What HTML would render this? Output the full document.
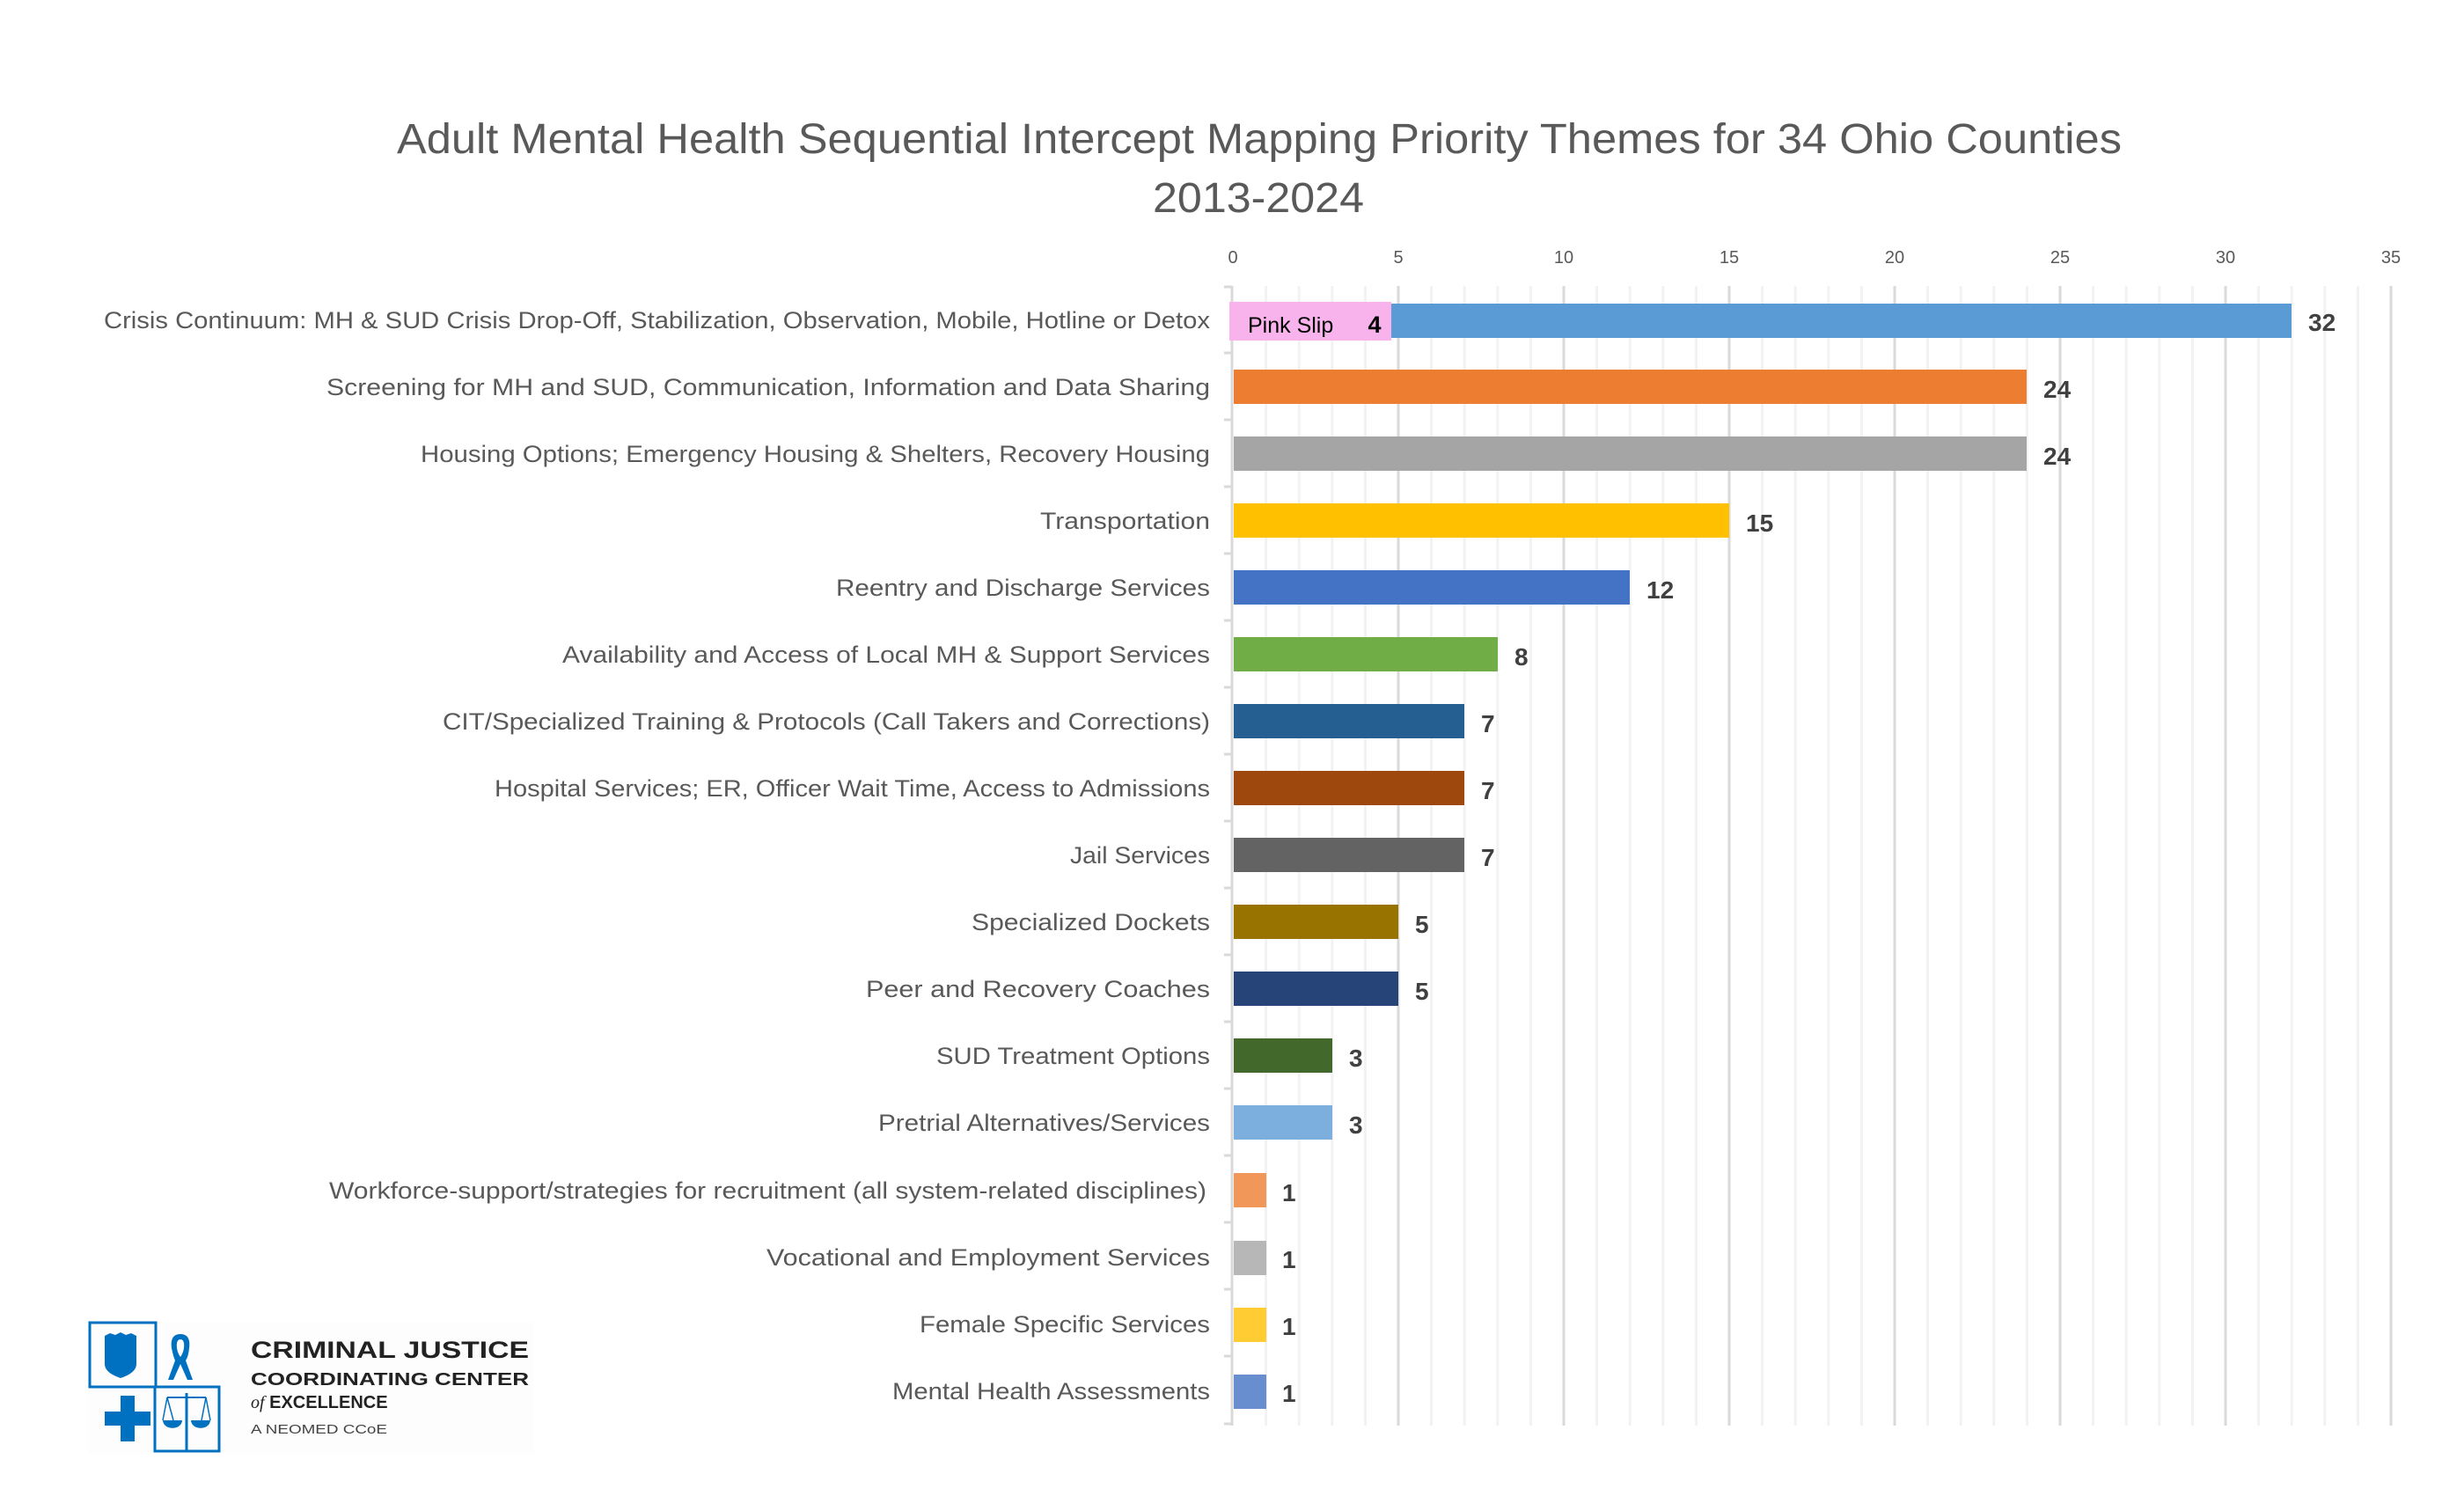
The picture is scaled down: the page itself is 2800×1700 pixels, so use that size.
<!DOCTYPE html>
<html><head><meta charset="utf-8"><style>
html,body{margin:0;padding:0;background:#fff;}
svg{display:block;}
</style></head><body>
<svg xmlns="http://www.w3.org/2000/svg" width="2800" height="1700" viewBox="0 0 2800 1700" font-family="Liberation Sans, sans-serif">
<rect width="2800" height="1700" fill="#fff"/>
<!-- title -->
<text x="451" y="174" font-size="48" fill="#595959" textLength="1960" lengthAdjust="spacingAndGlyphs">Adult Mental Health Sequential Intercept Mapping Priority Themes for 34 Ohio Counties</text>
<text x="1310" y="241" font-size="48" fill="#595959" textLength="240" lengthAdjust="spacingAndGlyphs">2013-2024</text>
<!-- gridlines -->
<path stroke="#f2f2f2" stroke-width="3" fill="none" d="M1438.6 325V1620M1476.2 325V1620M1513.8 325V1620M1551.4 325V1620M1626.6 325V1620M1664.2 325V1620M1701.8 325V1620M1739.4 325V1620M1814.6 325V1620M1852.2 325V1620M1889.8 325V1620M1927.4 325V1620M2002.6 325V1620M2040.2 325V1620M2077.8 325V1620M2115.4 325V1620M2190.6 325V1620M2228.2 325V1620M2265.8 325V1620M2303.4 325V1620M2378.6 325V1620M2416.2 325V1620M2453.8 325V1620M2491.4 325V1620M2566.6 325V1620M2604.2 325V1620M2641.8 325V1620M2679.4 325V1620"/>
<path stroke="#d9d9d9" stroke-width="3" fill="none" d="M1589 325V1620M1777 325V1620M1965 325V1620M2153 325V1620M2341 325V1620M2529 325V1620M2717 325V1620M1400 325V1620"/>
<!-- axis ticks -->
<path stroke="#d9d9d9" stroke-width="3" fill="none" d="M1391 326H1400M1391 401H1400M1391 477H1400M1391 553H1400M1391 629H1400M1391 705H1400M1391 781H1400M1391 857H1400M1391 933H1400M1391 1009H1400M1391 1085H1400M1391 1161H1400M1391 1237H1400M1391 1313H1400M1391 1389H1400M1391 1465H1400M1391 1541H1400M1391 1618H1400"/>
<!-- x tick labels -->
<g font-size="20" fill="#595959" text-anchor="middle">
<text x="1401" y="299">0</text><text x="1589" y="299">5</text><text x="1777" y="299">10</text><text x="1965" y="299">15</text><text x="2153" y="299">20</text><text x="2341" y="299">25</text><text x="2529" y="299">30</text><text x="2717" y="299">35</text>
</g>
<!-- bars -->
<g>
<rect x="1402" y="345" width="1202" height="39" fill="#5B9BD5"/>
<rect x="1397" y="343" width="184" height="44" fill="#F9B3EC"/>
<rect x="1402" y="420" width="901" height="39" fill="#ED7D31"/>
<rect x="1402" y="496" width="901" height="39" fill="#A5A5A5"/>
<rect x="1402" y="572" width="563" height="39" fill="#FFC000"/>
<rect x="1402" y="648" width="450" height="39" fill="#4472C4"/>
<rect x="1402" y="724" width="300" height="39" fill="#70AD47"/>
<rect x="1402" y="800" width="262" height="39" fill="#255E91"/>
<rect x="1402" y="876" width="262" height="39" fill="#9E480E"/>
<rect x="1402" y="952" width="262" height="39" fill="#636363"/>
<rect x="1402" y="1028" width="187" height="39" fill="#997300"/>
<rect x="1402" y="1104" width="187" height="39" fill="#264478"/>
<rect x="1402" y="1180" width="112" height="39" fill="#43682B"/>
<rect x="1402" y="1256" width="112" height="39" fill="#7CAFDD"/>
<rect x="1402" y="1333" width="37" height="39" fill="#F1975A"/>
<rect x="1402" y="1410" width="37" height="39" fill="#B7B7B7"/>
<rect x="1402" y="1486" width="37" height="39" fill="#FFCD33"/>
<rect x="1402" y="1562" width="37" height="39" fill="#698ED0"/>
</g>
<text x="1418" y="378" font-size="25" fill="#000">Pink Slip</text>
<text x="1562" y="378" font-size="27" font-weight="bold" fill="#000" text-anchor="middle">4</text>
<!-- value labels -->
<g font-size="28" font-weight="bold" fill="#404040">
<text x="2623" y="376">32</text>
<text x="2322" y="452">24</text>
<text x="2322" y="528">24</text>
<text x="1984" y="604">15</text>
<text x="1871" y="680">12</text>
<text x="1721" y="756">8</text>
<text x="1683" y="832">7</text>
<text x="1683" y="908">7</text>
<text x="1683" y="984">7</text>
<text x="1608" y="1060">5</text>
<text x="1608" y="1136">5</text>
<text x="1533" y="1212">3</text>
<text x="1533" y="1288">3</text>
<text x="1457" y="1365">1</text>
<text x="1457" y="1441">1</text>
<text x="1457" y="1517">1</text>
<text x="1457" y="1593">1</text>
</g>
<!-- category labels -->
<g font-size="27" fill="#595959" text-anchor="end">
<text x="1375" y="373" textLength="1257" lengthAdjust="spacingAndGlyphs">Crisis Continuum: MH &amp; SUD Crisis Drop-Off, Stabilization, Observation, Mobile, Hotline or Detox</text>
<text x="1375" y="449" textLength="1004" lengthAdjust="spacingAndGlyphs">Screening for MH and SUD, Communication, Information and Data Sharing</text>
<text x="1375" y="525" textLength="897" lengthAdjust="spacingAndGlyphs">Housing Options; Emergency Housing &amp; Shelters, Recovery Housing</text>
<text x="1375" y="601" textLength="193" lengthAdjust="spacingAndGlyphs">Transportation</text>
<text x="1375" y="677" textLength="425" lengthAdjust="spacingAndGlyphs">Reentry and Discharge Services</text>
<text x="1375" y="753" textLength="736" lengthAdjust="spacingAndGlyphs">Availability and Access of Local MH &amp; Support Services</text>
<text x="1375" y="829" textLength="872" lengthAdjust="spacingAndGlyphs">CIT/Specialized Training &amp; Protocols (Call Takers and Corrections)</text>
<text x="1375" y="905" textLength="813" lengthAdjust="spacingAndGlyphs">Hospital Services; ER, Officer Wait Time, Access to Admissions</text>
<text x="1375" y="981" textLength="159" lengthAdjust="spacingAndGlyphs">Jail Services</text>
<text x="1375" y="1057" textLength="271" lengthAdjust="spacingAndGlyphs">Specialized Dockets</text>
<text x="1375" y="1133" textLength="391" lengthAdjust="spacingAndGlyphs">Peer and Recovery Coaches</text>
<text x="1375" y="1209" textLength="311" lengthAdjust="spacingAndGlyphs">SUD Treatment Options</text>
<text x="1375" y="1285" textLength="377" lengthAdjust="spacingAndGlyphs">Pretrial Alternatives/Services</text>
<text x="1371" y="1362" textLength="997" lengthAdjust="spacingAndGlyphs">Workforce-support/strategies for recruitment (all system-related disciplines)</text>
<text x="1375" y="1438" textLength="504" lengthAdjust="spacingAndGlyphs">Vocational and Employment Services</text>
<text x="1375" y="1514" textLength="330" lengthAdjust="spacingAndGlyphs">Female Specific Services</text>
<text x="1375" y="1590" textLength="361" lengthAdjust="spacingAndGlyphs">Mental Health Assessments</text>
</g>
<!-- logo -->
<g>
<rect x="100" y="1502" width="506" height="149" fill="#fdfdfd"/>
<rect x="102" y="1503" width="75" height="73" fill="none" stroke="#0070C0" stroke-width="3"/>
<rect x="176" y="1576" width="73" height="73" fill="none" stroke="#0070C0" stroke-width="3"/>
<path d="M119 1518 l6 -3 l6 2 l6 -3 l6 3 l6 -2 l6 3 v32 q0 10 -18 16 q-18 -6 -18 -16 z" fill="#0070C0"/>
<path d="M205 1516 q-12 0 -10 16 q2 10 4 14 l-8 22 h6 l8 -18 l8 18 h6 l-8 -22 q3 -4 4 -14 q2 -16 -10 -16 z M205 1522 q5 0 4 10 q-1 6 -4 10 q-3 -4 -4 -10 q-1 -10 4 -10z" fill="#0070C0" fill-rule="evenodd"/>
<rect x="137" y="1586" width="16" height="52" fill="#0070C0"/>
<rect x="119" y="1604" width="52" height="16" fill="#0070C0"/>
<line x1="212" y1="1583" x2="212" y2="1648" stroke="#0070C0" stroke-width="3"/>
<line x1="190" y1="1588" x2="234" y2="1588" stroke="#0070C0" stroke-width="2"/>
<path d="M185 1614 a10 8 0 0 0 22 0 z M217 1614 a10 8 0 0 0 22 0 z" fill="#0070C0"/>
<path d="M190 1588 l-5 26 M190 1588 l7 26 M234 1588 l-5 26 M234 1588 l5 26" stroke="#0070C0" stroke-width="1.5" fill="none"/>
<text x="285" y="1543" font-size="27" font-weight="bold" fill="#222" textLength="316" lengthAdjust="spacingAndGlyphs">CRIMINAL JUSTICE</text>
<text x="285" y="1574" font-size="20" font-weight="bold" fill="#222" textLength="316" lengthAdjust="spacingAndGlyphs">COORDINATING CENTER</text>
<text x="285" y="1600" font-size="20" font-weight="bold" fill="#222"><tspan font-style="italic" font-family="Liberation Serif, serif" font-weight="normal">of</tspan> EXCELLENCE</text>
<text x="285" y="1629" font-size="15" fill="#444" textLength="155" lengthAdjust="spacingAndGlyphs">A NEOMED CCoE</text>
</g>
</svg>
</body></html>
